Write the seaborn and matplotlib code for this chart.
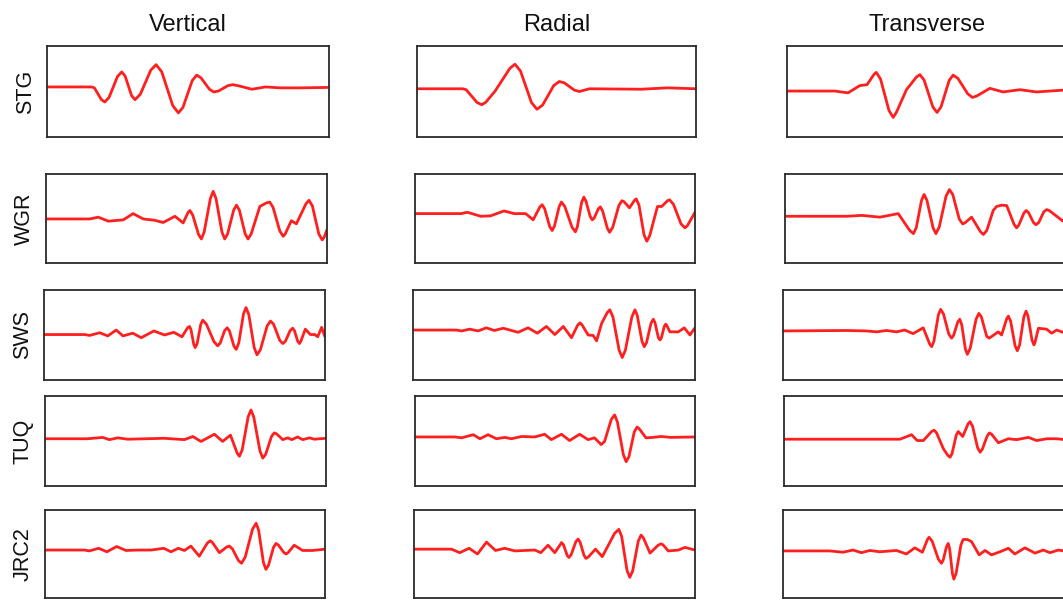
import pandas as pd
import numpy as np
import matplotlib
matplotlib.use("Agg")
import matplotlib.pyplot as plt
import seaborn as sns

# station names (rows) and components (columns)
stations = ["STG", "WGR", "SWS", "TUQ", "JRC2"]
components = ["Vertical", "Radial", "Transverse"]

# waveform samples: time (0-100 % of window), amplitude (-1..1 of panel half height)
stg_v_t = [0, 15.8, 16.8, 19.3, 20.5, 22.0, 25.0, 26.5, 27.7, 30.0, 31.2, 33.1, 36.8, 38.7, 40.7, 44.6,
           46.6, 48.2, 51.5, 53.1, 54.6, 57.6, 59.1, 60.8, 64.2, 65.9, 67.6, 72.7, 77.5, 82.8, 89.9, 100]
stg_v_a = [0.10, 0.10, 0.08, -0.18, -0.23, -0.13, 0.33, 0.43, 0.34, -0.09, -0.18, -0.06, 0.47, 0.59, 0.43, -0.31,
           -0.47, -0.35, 0.24, 0.36, 0.30, 0.05, -0.01, 0.01, 0.13, 0.15, 0.13, 0.05, 0.10, 0.08, 0.08, 0.09]

stg_r_t = [0, 16.4, 17.6, 21.5, 23.2, 24.6, 28.0, 33.3, 35.1, 37.1, 41.0, 43.0, 45.0, 49.0, 51.0, 52.8,
           56.4, 58.2, 61.8, 80.3, 89.8, 100]
stg_r_a = [0.06, 0.06, 0.04, -0.24, -0.29, -0.24, 0.01, 0.51, 0.60, 0.45, -0.24, -0.39, -0.30, 0.13, 0.22, 0.19,
           0.03, 0.00, 0.06, 0.05, 0.08, 0.06]

stg_t_t = [0, 17.0, 21.7, 25.9, 28.5, 31.0, 31.8, 33.3, 36.3, 37.8, 39.0, 42.5, 46.1, 47.3, 48.8, 51.9,
           53.4, 54.8, 57.7, 59.1, 60.8, 64.3, 66.0, 67.5, 72.2, 76.9, 82.9, 88.8, 98.2, 100]
stg_t_a = [0.01, 0.01, -0.03, 0.13, 0.15, 0.38, 0.42, 0.27, -0.42, -0.57, -0.45, 0.04, 0.32, 0.37, 0.25, -0.34,
           -0.46, -0.34, 0.24, 0.36, 0.29, -0.05, -0.13, -0.10, 0.07, -0.01, 0.04, -0.01, 0.03, 0.03]

wgr_v_t = [0, 15.6, 18.6, 22.2, 27.5, 31.0, 34.6, 38.7, 41.7, 45.9, 48.8, 50.6, 51.2, 52.2, 54.3, 55.3,
           56.3, 58.5, 59.5, 60.5, 62.6, 63.6, 64.6, 66.8, 67.8, 68.8, 70.9, 71.9, 73.0, 76.1, 78.4, 79.6,
           80.8, 83.2, 84.4, 85.1, 87.3, 89.1, 92.5, 93.6, 94.8, 97.1, 98.3, 99.0, 100]
wgr_v_a = [-0.01, -0.01, 0.03, -0.06, -0.03, 0.11, -0.01, -0.04, -0.09, 0.05, -0.10, 0.14, 0.18, 0.08, -0.36, -0.46,
           -0.30, 0.45, 0.61, 0.45, -0.30, -0.46, -0.35, 0.19, 0.30, 0.19, -0.35, -0.46, -0.35, 0.27, 0.35, 0.37,
           0.25, -0.28, -0.40, -0.35, -0.05, -0.12, 0.33, 0.41, 0.28, -0.35, -0.48, -0.42, -0.25]

wgr_r_t = [0, 16.4, 18.7, 23.5, 27.0, 31.8, 35.4, 39.5, 42.2, 44.6, 45.4, 46.3, 48.1, 49.0, 49.8, 51.5,
           52.3, 53.5, 56.1, 57.3, 58.0, 59.5, 60.3, 61.0, 62.6, 63.3, 64.0, 65.5, 66.2, 67.0, 68.7, 69.5,
           70.6, 72.8, 73.9, 74.6, 76.6, 78.4, 79.0, 80.0, 81.8, 82.8, 83.8, 86.6, 88.1, 90.2, 90.9, 92.3,
           95.0, 96.4, 97.3, 100]
wgr_r_a = [0.11, 0.11, 0.14, 0.05, 0.06, 0.17, 0.11, 0.11, -0.03, 0.26, 0.31, 0.22, -0.18, -0.27, -0.17, 0.27,
           0.37, 0.27, -0.20, -0.30, -0.18, 0.36, 0.48, 0.40, 0.04, -0.03, 0.01, 0.22, 0.26, 0.17, -0.22, -0.31,
           -0.20, 0.29, 0.40, 0.38, 0.24, 0.41, 0.44, 0.30, -0.37, -0.51, -0.39, 0.27, 0.27, 0.40, 0.42, 0.32,
           -0.12, -0.21, -0.16, 0.14]

wgr_t_t = [0, 21.9, 27.3, 33.8, 40.3, 44.4, 45.7, 46.7, 48.6, 49.5, 50.5, 52.7, 53.7, 54.9, 57.3, 58.5,
           59.7, 62.0, 63.2, 64.0, 66.4, 69.6, 70.6, 71.8, 74.1, 75.3, 77.1, 78.9, 81.5, 82.4, 83.2, 85.0,
           85.8, 86.7, 88.4, 89.3, 90.3, 92.1, 93.1, 94.0, 96.7, 98.9, 100]
wgr_t_a = [0.05, 0.05, 0.07, 0.03, 0.11, -0.27, -0.34, -0.21, 0.41, 0.54, 0.41, -0.21, -0.34, -0.19, 0.50, 0.65,
           0.54, -0.01, -0.12, -0.10, 0.03, -0.30, -0.36, -0.27, 0.18, 0.27, 0.30, 0.29, -0.13, -0.21, -0.15, 0.12,
           0.18, 0.13, -0.09, -0.14, -0.09, 0.15, 0.20, 0.18, 0.05, -0.06, -0.03]

sws_v_t = [0, 14.5, 16.2, 19.8, 22.7, 25.7, 28.1, 31.6, 34.6, 39.1, 42.9, 46.2, 49.1, 51.1, 51.8, 52.3,
           53.3, 53.8, 54.5, 55.8, 56.5, 57.8, 60.5, 61.8, 62.7, 64.3, 65.2, 66.0, 67.6, 68.4, 69.3, 71.0,
           71.9, 72.9, 74.8, 75.8, 77.0, 79.4, 80.6, 81.7, 83.9, 85.0, 85.9, 87.6, 88.5, 89.1, 90.3, 90.9,
           91.4, 93.0, 94.8, 96.4, 97.4, 98.8, 100]
sws_v_a = [0.01, 0.01, -0.01, 0.05, -0.02, 0.11, -0.02, 0.04, -0.06, 0.09, 0.00, 0.06, -0.04, 0.16, 0.19, 0.12,
           -0.21, -0.28, -0.19, 0.24, 0.33, 0.24, -0.15, -0.24, -0.18, 0.10, 0.16, 0.09, -0.25, -0.32, -0.18, 0.47,
           0.61, 0.45, -0.28, -0.44, -0.33, 0.20, 0.31, 0.24, -0.12, -0.19, -0.14, 0.10, 0.15, 0.10, -0.14, -0.19,
           -0.14, 0.13, 0.01, 0.01, -0.04, 0.17, -0.04]

sws_r_t = [0, 15.4, 17.2, 20.1, 23.1, 26.0, 28.8, 32.0, 37.3, 40.8, 44.1, 47.3, 50.3, 53.3, 56.2, 58.4,
           59.2, 59.9, 62.1, 63.9, 65.1, 66.9, 68.9, 69.8, 70.9, 73.1, 74.2, 75.3, 77.6, 78.7, 79.5, 81.2,
           82.0, 82.8, 84.4, 85.2, 85.8, 87.0, 87.6, 88.1, 89.1, 89.6, 90.0, 91.1, 94.1, 96.2, 98.2, 100]
sws_r_a = [0.11, 0.11, 0.09, 0.13, 0.09, 0.16, 0.10, 0.15, 0.06, 0.16, 0.04, 0.19, 0.01, 0.19, -0.06, 0.22,
           0.27, 0.23, 0.00, -0.01, -0.13, 0.26, 0.50, 0.56, 0.40, -0.34, -0.50, -0.34, 0.40, 0.56, 0.44, -0.14,
           -0.26, -0.17, 0.26, 0.35, 0.28, -0.06, -0.11, -0.06, 0.19, 0.24, 0.21, 0.07, 0.07, 0.16, 0.00, 0.16]

sws_t_t = [0, 22.6, 29.7, 33.3, 36.8, 40.4, 43.3, 46.3, 49.9, 52.2, 52.9, 53.7, 55.3, 56.1, 57.1, 59.0,
           60.0, 60.7, 62.2, 62.9, 63.6, 64.9, 65.6, 66.6, 68.7, 69.7, 70.6, 72.5, 73.4, 76.6, 77.8, 79.6,
           80.2, 81.0, 82.6, 83.4, 84.2, 85.7, 86.5, 87.2, 88.6, 89.3, 89.7, 90.9, 93.8, 95.6, 97.4, 99.6, 100]
sws_t_a = [0.09, 0.10, 0.09, 0.07, 0.10, 0.07, 0.11, 0.03, 0.16, -0.20, -0.26, -0.14, 0.45, 0.57, 0.47, 0.02,
           -0.07, -0.01, 0.29, 0.35, 0.23, -0.31, -0.43, -0.30, 0.35, 0.48, 0.40, -0.03, -0.07, 0.07, 0.00, 0.36,
           0.42, 0.31, -0.24, -0.35, -0.22, 0.40, 0.53, 0.42, -0.11, -0.22, -0.16, 0.15, 0.13, 0.04, 0.11, 0.06, 0.06]

tuq_v_t = [0, 15.2, 20.5, 22.9, 25.9, 29.4, 42.5, 49.6, 52.6, 55.5, 60.3, 63.2, 66.0, 68.4, 69.2, 70.2,
           72.3, 73.3, 74.3, 76.5, 77.5, 78.5, 80.6, 81.6, 82.4, 84.6, 86.4, 87.8, 89.9, 91.7, 94.1, 95.8, 100]
tuq_v_a = [0.05, 0.05, 0.08, 0.03, 0.07, 0.04, 0.06, 0.03, 0.10, -0.01, 0.15, -0.01, 0.13, -0.27, -0.34, -0.19,
           0.54, 0.69, 0.53, -0.22, -0.38, -0.30, 0.10, 0.18, 0.16, 0.03, 0.07, 0.03, 0.09, 0.03, 0.07, 0.04, 0.06]

tuq_r_t = [0, 14.3, 16.6, 20.8, 23.2, 26.1, 29.1, 32.1, 34.4, 38.0, 42.8, 46.3, 48.7, 52.3, 55.2, 58.8,
           61.8, 64.1, 66.5, 67.7, 70.1, 71.3, 72.3, 74.4, 75.4, 76.4, 78.3, 79.3, 80.1, 82.5, 84.9, 87.9,
           91.4, 100]
tuq_r_a = [0.09, 0.09, 0.07, 0.14, 0.05, 0.14, 0.05, 0.08, 0.05, 0.10, 0.09, 0.15, 0.03, 0.15, 0.01, 0.15,
           0.03, 0.07, -0.08, -0.01, 0.48, 0.58, 0.42, -0.30, -0.46, -0.35, 0.20, 0.31, 0.27, 0.07, 0.08, 0.10,
           0.08, 0.09]

tuq_t_t = [0, 41.3, 45.4, 47.4, 49.6, 52.5, 53.4, 54.3, 56.7, 58.3, 59.1, 59.8, 61.3, 62.0, 63.6, 65.5,
           66.2, 67.1, 68.9, 69.8, 70.6, 72.3, 73.1, 73.9, 76.3, 79.8, 82.8, 87.0, 89.9, 93.5, 97.0, 100]
tuq_t_a = [0.04, 0.04, 0.14, 0.01, 0.01, 0.21, 0.24, 0.18, -0.17, -0.32, -0.36, -0.28, 0.13, 0.21, 0.10, 0.38,
           0.43, 0.33, -0.15, -0.25, -0.18, 0.11, 0.18, 0.15, -0.04, 0.05, 0.03, 0.08, 0.01, 0.05, 0.05, 0.03]

jrc2_v_t = [0, 14.0, 15.8, 19.2, 22.1, 25.6, 28.9, 33.1, 37.9, 42.4, 45.0, 47.6, 49.8, 52.1, 55.1, 58.0,
            59.0, 59.8, 62.3, 64.9, 65.8, 66.9, 69.1, 70.2, 71.5, 74.1, 75.4, 76.3, 78.0, 78.9, 79.8, 81.6,
            82.5, 83.4, 85.2, 86.1, 86.8, 89.0, 92.0, 95.6, 100]
jrc2_v_a = [0.09, 0.09, 0.07, 0.13, 0.05, 0.17, 0.08, 0.09, 0.09, 0.13, 0.05, 0.13, 0.08, 0.18, -0.05, 0.25,
            0.30, 0.26, 0.03, 0.16, 0.18, 0.12, -0.15, -0.21, -0.07, 0.56, 0.70, 0.54, -0.19, -0.35, -0.26, 0.15,
            0.24, 0.20, 0.04, 0.00, 0.03, 0.20, 0.08, 0.08, 0.11]

jrc2_r_t = [0, 13.3, 16.3, 19.6, 22.6, 25.8, 29.0, 32.3, 35.9, 39.4, 43.0, 45.1, 47.7, 50.1, 51.9, 52.5,
            53.2, 54.5, 55.1, 55.9, 57.6, 58.4, 59.1, 60.5, 61.2, 62.0, 64.6, 67.0, 71.4, 72.9, 73.9, 75.8,
            76.8, 77.8, 79.8, 80.8, 81.6, 84.0, 86.9, 87.9, 88.6, 90.5, 94.1, 96.4, 100]
jrc2_r_a = [0.11, 0.11, 0.03, 0.13, 0.00, 0.27, 0.08, 0.13, 0.07, 0.08, 0.09, 0.03, 0.20, 0.03, 0.20, 0.26,
            0.21, -0.03, -0.08, -0.02, 0.28, 0.34, 0.27, -0.03, -0.10, -0.07, 0.11, -0.06, 0.47, 0.56, 0.40, -0.37,
            -0.53, -0.39, 0.29, 0.43, 0.37, 0.02, 0.20, 0.23, 0.21, 0.07, 0.09, 0.15, 0.09]

jrc2_t_t = [0, 16.6, 21.4, 24.9, 27.9, 30.9, 34.4, 40.4, 43.9, 46.9, 49.6, 51.4, 52.0, 53.1, 55.3, 56.4,
            57.0, 58.2, 58.8, 59.3, 60.3, 60.8, 61.6, 63.3, 64.1, 65.6, 67.1, 69.8, 71.9, 74.2, 77.2, 80.2,
            82.5, 86.1, 89.7, 92.6, 95.0, 98.0, 100]
jrc2_t_a = [0.07, 0.07, 0.04, 0.09, 0.03, 0.08, 0.05, 0.08, 0.00, 0.14, 0.04, 0.33, 0.38, 0.29, -0.12, -0.21,
            -0.14, 0.17, 0.24, 0.12, -0.45, -0.57, -0.44, 0.20, 0.33, 0.33, 0.28, -0.02, 0.08, -0.02, 0.05, 0.13,
            0.00, 0.14, 0.02, 0.09, 0.03, 0.09, 0.07]

traces = {
    ("STG", "Vertical"): (stg_v_t, stg_v_a), ("STG", "Radial"): (stg_r_t, stg_r_a),
    ("STG", "Transverse"): (stg_t_t, stg_t_a),
    ("WGR", "Vertical"): (wgr_v_t, wgr_v_a), ("WGR", "Radial"): (wgr_r_t, wgr_r_a),
    ("WGR", "Transverse"): (wgr_t_t, wgr_t_a),
    ("SWS", "Vertical"): (sws_v_t, sws_v_a), ("SWS", "Radial"): (sws_r_t, sws_r_a),
    ("SWS", "Transverse"): (sws_t_t, sws_t_a),
    ("TUQ", "Vertical"): (tuq_v_t, tuq_v_a), ("TUQ", "Radial"): (tuq_r_t, tuq_r_a),
    ("TUQ", "Transverse"): (tuq_t_t, tuq_t_a),
    ("JRC2", "Vertical"): (jrc2_v_t, jrc2_v_a), ("JRC2", "Radial"): (jrc2_r_t, jrc2_r_a),
    ("JRC2", "Transverse"): (jrc2_t_t, jrc2_t_a),
}

# panel boxes in pixels (left, top, right, bottom), one list per column
W, H = 1063, 600
boxes = {
    "Vertical": [(47, 46, 329, 137), (46, 174, 327, 263), (44, 290, 325, 380), (45, 396, 326, 486), (45, 510, 325, 598)],
    "Radial": [(417, 46, 696, 137), (415, 174, 695, 263), (413, 290, 695, 380), (415, 396, 695, 486), (414, 510, 695, 598)],
    "Transverse": [(787, 46, 1068, 137), (785, 174, 1066, 263), (783, 290, 1064, 380), (784, 396, 1065, 486), (783, 510, 1064, 598)],
}

sns.set_theme(style="white")
plt.rcParams["font.family"] = ["Liberation Sans", "DejaVu Sans"]

fig = plt.figure(figsize=(W / 100, H / 100), dpi=100)

for comp in components:
    for i, st in enumerate(stations):
        l, t, r, b = boxes[comp][i]
        ax = fig.add_axes([l / W, 1 - b / H, (r - l) / W, (b - t) / H])
        tt, aa = traces[(st, comp)]
        assert len(tt) == len(aa), (st, comp)
        df = pd.DataFrame({"time": tt, "amp": aa})
        sns.lineplot(data=df, x="time", y="amp", ax=ax, color="#ff1f1f", linewidth=2.0,
                     sort=False, estimator=None, solid_joinstyle="round")
        ax.set_xlim(0, 100)
        ax.set_ylim(-1, 1)
        ax.set_xticks([])
        ax.set_yticks([])
        ax.set_xlabel("")
        ax.set_ylabel(st if comp == "Vertical" else "", fontsize=15.5, labelpad=8, color="#111111")
        for sp in ax.spines.values():
            sp.set_color("#2b2b2b")
            sp.set_linewidth(1.3)
        if i == 0:
            ax.set_title(comp, fontsize=17, pad=11, color="#111111")

fig.savefig("out.png", dpi=100)
